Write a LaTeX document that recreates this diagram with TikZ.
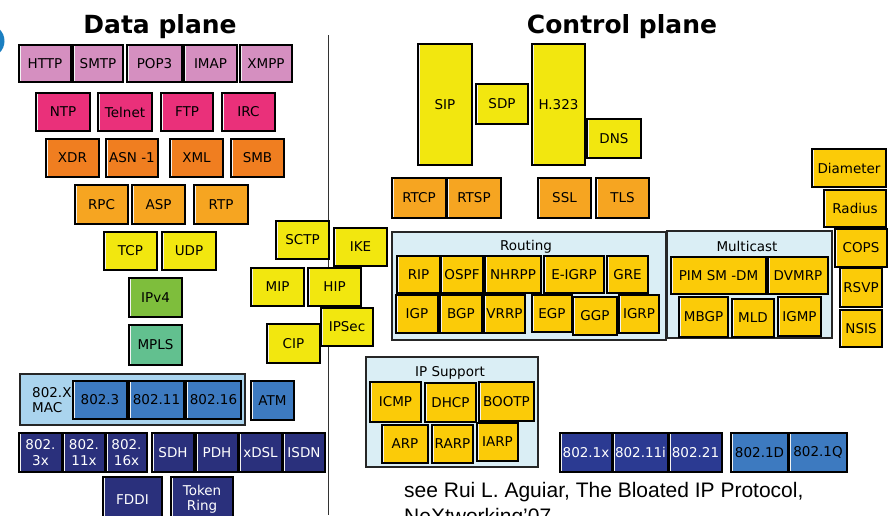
\documentclass[tikz,border=0pt]{standalone}
\usepackage{fontspec}
\setmainfont{DejaVu Sans}
\newfontfamily\citefont{Liberation Sans}

% Layer colours
\definecolor{appPink}{RGB}{213,143,192}
\definecolor{appMagenta}{RGB}{234,48,122}
\definecolor{presOrange}{RGB}{240,126,32}
\definecolor{sessOrange}{RGB}{246,165,33}
\definecolor{transYellow}{RGB}{242,231,15}
\definecolor{ipGreen}{RGB}{126,190,60}
\definecolor{mplsTeal}{RGB}{98,192,143}
\definecolor{macLight}{RGB}{170,212,238}
\definecolor{macBlue}{RGB}{61,122,192}
\definecolor{phyNavy}{RGB}{42,48,124}
\definecolor{ieeeNavy}{RGB}{43,58,146}
\definecolor{ctlGold}{RGB}{251,203,8}
\definecolor{groupBlue}{RGB}{218,238,245}
\definecolor{logoBlue}{RGB}{27,127,193}

\tikzset{
  box/.style={draw=black, line width=1.5pt, inner sep=0pt, align=center,
    font=\fontsize{13.5}{15.5}\selectfont,
    % light bevel along the left edge
    path picture={\draw[white!90!gray, line width=0.9pt]
      ([xshift=1.6pt]path picture bounding box.south west) --
      ([xshift=1.6pt]path picture bounding box.north west);}},
  darkbox/.style={box, text=white},
  group/.style={draw=black!85, line width=1.3pt, fill=groupBlue, inner sep=0pt},
  grouplabel/.style={font=\fontsize{13.5}{15.5}\selectfont, inner sep=0pt},
  plane/.style={font=\fontsize{25}{30}\selectfont\bfseries, inner sep=0pt, anchor=base},
  cite/.style={font=\citefont\fontsize{21}{25}\selectfont, inner sep=0pt, anchor=base west},
}

% \pbox{style}{name}{x1}{y1}{x2}{y2}{text}: a box spanning the given corners
\newcommand\pbox[7]{\node[#1, minimum width={(#5)-(#3)}, minimum height={(#6)-(#4)}]
  (#2) at ({((#3)+(#5))/2},{((#4)+(#6))/2}) {#7};}

\begin{document}
\begin{tikzpicture}[x=1pt, y=-1pt]
\clip (0,0) rectangle (890,515);
\fill[white] (0,0) rectangle (890,515);

% corner logo
\fill[logoBlue] (-12,41) circle (16.5);

% titles and the divider between the planes
\node[plane] (dtitle) at (160,33) {Data plane};
\node[plane] (ctitle) at (622,33) {Control plane};
\coordinate (divtop) at (328,35);
\coordinate (divbot) at (328,515);
\draw[line width=1pt, black!80] (divtop) -- (divbot);

% ---------------- data plane ----------------
\pbox{box, fill=appPink}{http}{19}{45}{71}{82}{HTTP}
\pbox{box, fill=appPink}{smtp}{73}{45}{123}{82}{SMTP}
\pbox{box, fill=appPink}{pop3}{127}{45}{182}{82}{POP3}
\pbox{box, fill=appPink}{imap}{184}{45}{237}{82}{IMAP}
\pbox{box, fill=appPink}{xmpp}{240}{45}{292}{82}{XMPP}

\pbox{box, fill=appMagenta}{ntp}{36}{93}{90}{131}{NTP}
\pbox{box, fill=appMagenta}{telnet}{98}{93}{152}{131}{Telnet}
\pbox{box, fill=appMagenta}{ftp}{161}{93}{213}{131}{FTP}
\pbox{box, fill=appMagenta}{irc}{222}{93}{275}{131}{IRC}

\pbox{box, fill=presOrange}{xdr}{46}{139}{99}{177}{XDR}
\pbox{box, fill=presOrange}{asn}{106}{139}{158}{177}{ASN -1}
\pbox{box, fill=presOrange}{xml}{170}{139}{223}{177}{XML}
\pbox{box, fill=presOrange}{smb}{231}{139}{284}{177}{SMB}

\pbox{box, fill=sessOrange}{rpc}{75}{185}{128}{224}{RPC}
\pbox{box, fill=sessOrange}{asp}{132}{185}{185}{224}{ASP}
\pbox{box, fill=sessOrange}{rtp}{194}{185}{248}{224}{RTP}

\pbox{box, fill=transYellow}{tcp}{104}{232}{157}{270}{TCP}
\pbox{box, fill=transYellow}{udp}{162}{232}{216}{270}{UDP}

\pbox{box, fill=ipGreen}{ipv4}{129}{278}{182}{317}{IPv4}
\pbox{box, fill=mplsTeal}{mpls}{129}{325}{182}{365}{MPLS}

\pbox{box, fill=transYellow}{sctp}{276}{221}{329}{259}{SCTP}
\pbox{box, fill=transYellow}{ike}{334}{228}{387}{266}{IKE}
\pbox{box, fill=transYellow}{mip}{251}{268}{304}{306}{MIP}
\pbox{box, fill=transYellow}{hip}{308}{268}{361}{306}{HIP}
\pbox{box, fill=transYellow}{ipsec}{321}{308}{373}{346}{IPSec}
\pbox{box, fill=transYellow}{cip}{267}{324}{320}{363}{CIP}

% link layer
\pbox{group, fill=macLight}{macgroup}{20}{374}{245}{425}{}
\node[grouplabel, anchor=west, align=left] (maclabel) at (32,400) {802.X\\MAC};
\pbox{box, fill=macBlue}{e8023}{73}{381}{127}{419}{802.3}
\pbox{box, fill=macBlue}{e80211}{129}{381}{184}{419}{802.11}
\pbox{box, fill=macBlue}{e80216}{186}{381}{241}{419}{802.16}
\pbox{box, fill=macBlue}{atm}{251}{381}{294}{420}{ATM}

\pbox{darkbox, fill=phyNavy}{p8023x}{19}{433}{62}{472}{802.\\3x}
\pbox{darkbox, fill=phyNavy}{p80211x}{63}{433}{105}{472}{802.\\11x}
\pbox{darkbox, fill=phyNavy}{p80216x}{106}{433}{147}{472}{802.\\16x}
\pbox{darkbox, fill=phyNavy}{sdh}{152}{433}{194}{472}{SDH}
\pbox{darkbox, fill=phyNavy}{pdh}{196}{433}{238}{472}{PDH}
\pbox{darkbox, fill=phyNavy}{xdsl}{239}{433}{282}{472}{xDSL}
\pbox{darkbox, fill=phyNavy}{isdn}{283}{433}{325}{472}{ISDN}
\pbox{darkbox, fill=phyNavy}{fddi}{103}{477}{162}{522}{FDDI}
\pbox{darkbox, fill=phyNavy}{tring}{171}{477}{233}{522}{Token\\Ring}

% ---------------- control plane ----------------
\pbox{box, fill=transYellow}{sip}{418}{44}{472}{165}{SIP}
\pbox{box, fill=transYellow}{sdp}{476}{84}{528}{124}{SDP}
\pbox{box, fill=transYellow}{h323}{532}{44}{585}{165}{H.323}
\pbox{box, fill=transYellow}{dns}{587}{119}{641}{158}{DNS}

\pbox{box, fill=sessOrange}{rtcp}{392}{178}{446}{218}{RTCP}
\pbox{box, fill=sessOrange}{rtsp}{447}{178}{501}{218}{RTSP}
\pbox{box, fill=sessOrange}{ssl}{538}{178}{591}{218}{SSL}
\pbox{box, fill=sessOrange}{tls}{596}{178}{649}{218}{TLS}

% routing
\pbox{group}{routing}{392}{232}{666}{340}{}
\node[grouplabel] (routinglabel) at (526,247) {Routing};
\pbox{box, fill=ctlGold}{rip}{397}{256}{440}{293}{RIP}
\pbox{box, fill=ctlGold}{ospf}{441}{256}{483}{293}{OSPF}
\pbox{box, fill=ctlGold}{nhrpp}{485}{256}{541}{293}{NHRPP}
\pbox{box, fill=ctlGold}{eigrp}{544}{256}{604}{293}{E-IGRP}
\pbox{box, fill=ctlGold}{gre}{607}{256}{648}{293}{GRE}
\pbox{box, fill=ctlGold}{igp}{396}{295}{438}{333}{IGP}
\pbox{box, fill=ctlGold}{bgp}{440}{295}{482}{333}{BGP}
\pbox{box, fill=ctlGold}{vrrp}{484}{295}{525}{333}{VRRP}
\pbox{box, fill=ctlGold}{egp}{532}{295}{572}{332}{EGP}
\pbox{box, fill=ctlGold}{ggp}{573}{297}{617}{335}{GGP}
\pbox{box, fill=ctlGold}{igrp}{619}{295}{659}{333}{IGRP}

% multicast
\pbox{group}{multicast}{667}{231}{832}{338}{}
\node[grouplabel] (multicastlabel) at (747,246) {Multicast};
\pbox{box, fill=ctlGold}{pim}{671}{257}{766}{294}{PIM SM -DM}
\pbox{box, fill=ctlGold}{dvmrp}{768}{257}{828}{294}{DVMRP}
\pbox{box, fill=ctlGold}{mbgp}{679}{297}{728}{337}{MBGP}
\pbox{box, fill=ctlGold}{mld}{732}{299}{774}{337}{MLD}
\pbox{box, fill=ctlGold}{igmp}{778}{297}{821}{336}{IGMP}

% AAA and signalling
\pbox{box, fill=ctlGold}{diameter}{812}{149}{886}{187}{Diameter}
\pbox{box, fill=ctlGold}{radius}{824}{190}{886}{227}{Radius}
\pbox{box, fill=ctlGold}{cops}{835}{229}{887}{267}{COPS}
\pbox{box, fill=ctlGold}{rsvp}{840}{268}{882}{307}{RSVP}
\pbox{box, fill=ctlGold}{nsis}{840}{310}{882}{347}{NSIS}

% IP support
\pbox{group}{ipsupport}{366}{357}{538}{467}{}
\node[grouplabel] (ipsupportlabel) at (450,373) {IP Support};
\pbox{box, fill=ctlGold}{icmp}{370}{382}{421}{422}{ICMP}
\pbox{box, fill=ctlGold}{dhcp}{425}{383}{476}{422}{DHCP}
\pbox{box, fill=ctlGold}{bootp}{479}{382}{534}{421}{BOOTP}
\pbox{box, fill=ctlGold}{arp}{382}{425}{428}{463}{ARP}
\pbox{box, fill=ctlGold}{rarp}{432}{425}{473}{463}{RARP}
\pbox{box, fill=ctlGold}{iarp}{477}{423}{518}{461}{IARP}

% IEEE control protocols
\pbox{darkbox, fill=ieeeNavy}{i8021x}{560}{433}{612}{472}{802.1x}
\pbox{darkbox, fill=ieeeNavy}{i80211i}{613}{433}{668}{472}{802.11i}
\pbox{darkbox, fill=ieeeNavy}{i80221}{669}{433}{722}{472}{802.21}
\pbox{box, fill=macBlue}{i8021d}{731}{433}{788}{472}{802.1D}
\pbox{box, fill=macBlue}{i8021q}{789}{433}{847}{472}{802.1Q}

% reference
\node[cite] (cite1) at (404,497) {see Rui L. Aguiar, The Bloated IP Protocol,};
\node[cite] (cite2) at (404,523) {NeXtworking’07};
\end{tikzpicture}
\end{document}
